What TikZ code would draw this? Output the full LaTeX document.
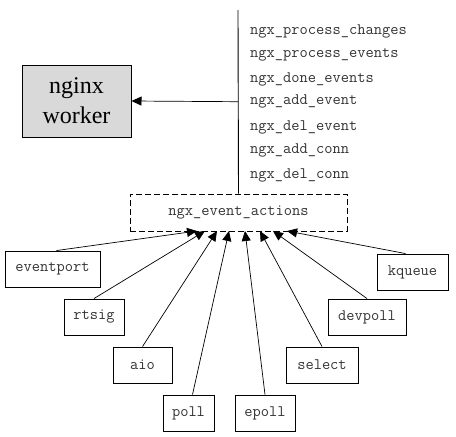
\documentclass[tikz,border=0pt]{standalone}
\usepackage{fontspec}
\setmainfont{Liberation Serif}
\usetikzlibrary{arrows.meta}
\begin{document}
\begin{tikzpicture}[x=1pt,y=-1pt,
  mono/.style={font=\ttfamily\fontsize{16}{17}\selectfont,text=black!80},
  box/.style={draw,line width=0.9pt,mono,inner sep=0pt,minimum height=36pt},
  fn/.style={anchor=base west,mono,inner sep=0pt},
  arr/.style={-{Triangle[length=10pt,width=9pt]},line width=0.7pt}]
\useasboundingbox (0,0) rectangle (456,437);
\node[draw,line width=1pt,fill=black!15,minimum width=109pt,minimum height=72pt,align=center,font=\fontsize{24}{30}\selectfont,inner sep=0pt] (worker) at (76.5,101) {nginx\\worker};
\node[draw,dash pattern=on 6pt off 3pt,line width=0.9pt,minimum width=217pt,minimum height=37pt,mono,inner sep=0pt] (actions) at (238.5,212.5) {ngx\_event\_actions};
\coordinate (top) at (238,10);
\coordinate (mid) at (238,101.7);
\draw[line width=0.9pt] (top) -- (actions.north);
\draw[arr] (mid) -- (worker.east);
\node[fn] (f1) at (250,34) {ngx\_process\_changes};
\node[fn] (f2) at (250,57) {ngx\_process\_events};
\node[fn] (f3) at (250,82) {ngx\_done\_events};
\node[fn] (f4) at (250,104) {ngx\_add\_event};
\node[fn] (f5) at (250,130) {ngx\_del\_event};
\node[fn] (f6) at (250,153) {ngx\_add\_conn};
\node[fn] (f7) at (250,178) {ngx\_del\_conn};
\node[box,minimum width=95pt] (eventport) at (52.5,269) {eventport};
\node[box,minimum width=60pt] (rtsig) at (94,317) {rtsig};
\node[box,minimum width=59pt] (aio) at (142.5,365) {aio};
\node[box,minimum width=51pt] (poll) at (188.5,413) {poll};
\node[box,minimum width=60pt] (epoll) at (265,413) {epoll};
\node[box,minimum width=72pt] (select) at (322,365) {select};
\node[box,minimum width=78pt] (devpoll) at (367,317) {devpoll};
\node[box,minimum width=71pt] (kqueue) at (412.5,272) {kqueue};
\coordinate (t1) at (197,231);
\coordinate (t2) at (205,231);
\coordinate (t3) at (217,231);
\coordinate (t4) at (229,231);
\coordinate (t5) at (245,231);
\coordinate (t6) at (260,231);
\coordinate (t7) at (273,231);
\coordinate (t8) at (287,231);
\draw[arr] ([xshift=4pt]eventport.north) -- (t1);
\draw[arr] (rtsig.north) -- (t2);
\draw[arr] (aio.north) -- (t3);
\draw[arr] ([xshift=4pt]poll.north) -- (t4);
\draw[arr] (epoll.north) -- (t5);
\draw[arr] (select.north) -- (t6);
\draw[arr] (devpoll.north) -- (t7);
\draw[arr] ([xshift=-7pt]kqueue.north) -- (t8);
\end{tikzpicture}
\end{document}
